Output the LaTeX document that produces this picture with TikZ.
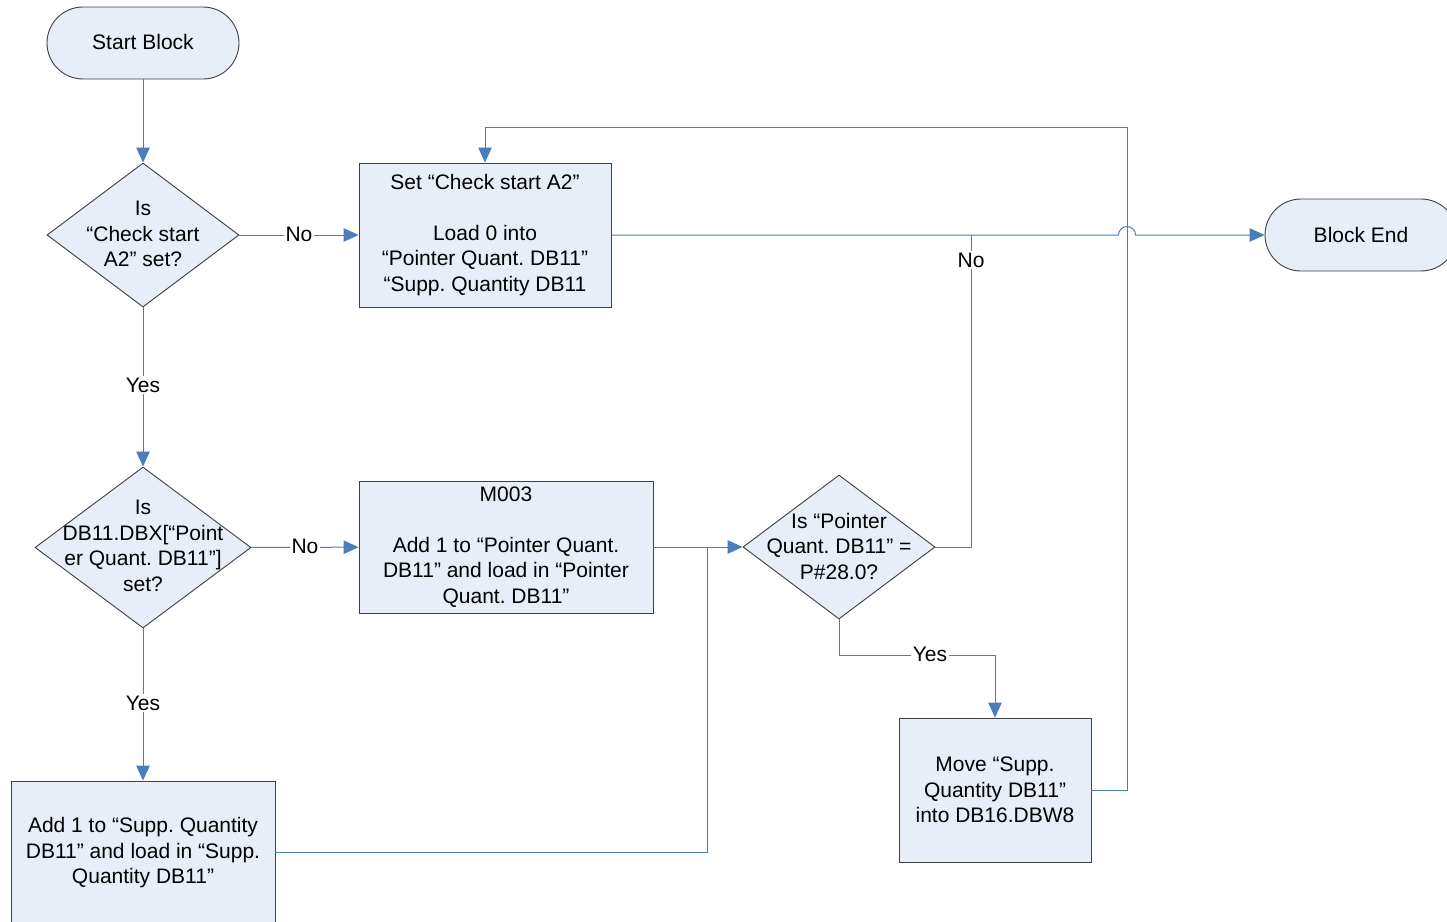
\documentclass[tikz,border=0pt]{standalone}
\usepackage{fontspec}
\setmainfont{Liberation Sans}
\usetikzlibrary{shapes.geometric,arrows.meta}
\definecolor{lineblue}{HTML}{4A7EBB}
\definecolor{shapefill}{HTML}{E8EEF7}
\definecolor{shapeborder}{HTML}{404040}
\frenchspacing
\begin{document}
\begin{tikzpicture}[x=1pt,y=-1pt,
  font=\fontsize{21}{25.5}\selectfont\frenchspacing,
  base/.style={draw=shapeborder, fill=shapefill, line width=0.9pt, inner sep=0pt, align=center},
  term/.style={base, rectangle, rounded corners=36pt, minimum width=192pt, minimum height=72pt},
  procbox/.style={base, rectangle},
  decision/.style={base, diamond},
  txt/.style={align=center, inner sep=0pt},
  conn/.style={draw=lineblue, line width=1pt},
  arr/.style={conn, -{Triangle[length=15pt,width=13.5pt]}},
  lbl/.style={fill=white, inner sep=1.5pt}
]
\useasboundingbox (0,0) rectangle (1447,921);
\clip (0,0) rectangle (1447,921);

% shapes
\node[term] (start) at (143,43) {};
\node[txt] (startt) at (143,41.5) {Start Block};
\node[decision, minimum width=192pt, minimum height=144pt] (d1) at (143,235) {};
\node[txt] (d1t) at (143,234) {Is\\“Check start\\A2” set?};
\node[procbox, minimum width=252pt, minimum height=144pt] (b1) at (485,235)
  {Set “Check start A2”\\[25.5pt]Load 0 into\\“Pointer Quant. DB11”\\“Supp. Quantity DB11};
\node[term] (bend) at (1361,235) {Block End};

\node[decision, minimum width=216pt, minimum height=161pt] (d2) at (143,547.5) {};
\node[txt] (d2t) at (143,546) {Is\\DB11.DBX[“Point\\er Quant. DB11”]\\set?};
\node[procbox, minimum width=294pt, minimum height=132pt] (b2) at (506,547)
  {M003\\[25.5pt]Add 1 to “Pointer Quant.\\DB11” and load in “Pointer\\Quant. DB11”};
\node[decision, minimum width=192pt, minimum height=144pt] (d3) at (839,547) {};
\node[txt] (d3t) at (839,546) {Is “Pointer\\Quant. DB11” =\\P\#28.0?};

\node[procbox, minimum width=264pt, minimum height=142pt] (b3) at (143,852) {};
\node[txt] (b3t) at (143,853) {Add 1 to “Supp. Quantity\\DB11” and load in “Supp.\\Quantity DB11”};
\node[procbox, minimum width=192pt, minimum height=144pt] (b4) at (995,790)
  {Move “Supp.\\Quantity DB11”\\into DB16.DBW8};

% helper coordinates
\coordinate (jl) at (1118.5,235);
\coordinate (nojoin) at (971,235);
\coordinate (mergept) at (707,547);
\coordinate (toproute) at (1127,127);
\coordinate (yesbend) at (839,655);

% connectors
\draw[arr] (start) -- (d1);
\draw[arr] (d1) -- (b1);
\draw[arr] (d1) -- (d2);
\draw[arr] (d2) -- (b2);
\draw[arr] (d2) -- (b3);
\draw[arr] (b2) -- (d3);
\draw[conn] (b3.east) -| (mergept);
\draw[conn] (d3.east) -| (nojoin);
\draw[arr] (d3.south) -- (yesbend) -| (b4.north);
\draw[arr] (b4.east) -| (toproute) -| (b1.north);
\draw[arr] (b1.east) -- (jl) arc[start angle=180,end angle=0,radius=8.5pt] -- (bend.west);

% labels
\node[lbl] (l1) at (299,234) {No};
\node[lbl] (l2) at (143,385) {Yes};
\node[lbl] (l3) at (305,546) {No};
\node[lbl] (l4) at (143,703) {Yes};
\node[lbl] (l5) at (971,260) {No};
\node[lbl] (l6) at (930,654) {Yes};
\end{tikzpicture}
\end{document}
